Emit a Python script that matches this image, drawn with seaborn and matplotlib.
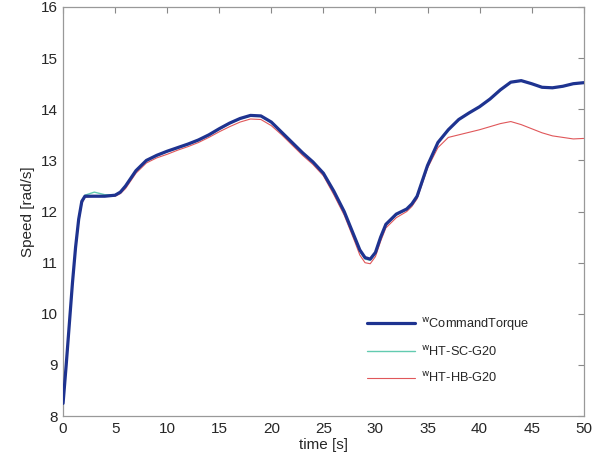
import numpy as np
import pandas as pd
import matplotlib
matplotlib.use("Agg")
import matplotlib.pyplot as plt
import seaborn as sns

# Values
time_s = [0, 0.3, 0.6, 0.9, 1.2, 1.5, 1.8, 2.1, 3, 4, 5, 5.5, 6, 7, 8, 9, 10, 11, 12, 13,
          14, 15, 16, 17, 18, 19, 20, 21, 22, 23, 24, 25, 26, 27, 28, 28.5, 29, 29.5, 30,
          30.5, 31, 32, 33, 33.5, 34, 35, 36, 37, 38, 39, 40, 41, 42, 43, 44, 45, 46, 47,
          48, 49, 50]
w_command = [8.25, 9.0, 9.8, 10.6, 11.3, 11.85, 12.2, 12.3, 12.3, 12.3, 12.32, 12.38, 12.5,
             12.8, 13.0, 13.1, 13.18, 13.25, 13.32, 13.4, 13.5, 13.62, 13.73, 13.82, 13.88,
             13.87, 13.75, 13.55, 13.35, 13.15, 12.97, 12.75, 12.4, 12.0, 11.5, 11.25, 11.1,
             11.07, 11.2, 11.5, 11.75, 11.95, 12.05, 12.15, 12.3, 12.9, 13.35, 13.6, 13.8,
             13.93, 14.05, 14.2, 14.38, 14.53, 14.56, 14.5, 14.43, 14.42, 14.45, 14.5, 14.52]
w_ht_sc = [8.25, 9.0, 9.8, 10.6, 11.3, 11.85, 12.2, 12.32, 12.38, 12.33, 12.33, 12.38, 12.5,
           12.8, 12.99, 13.09, 13.17, 13.24, 13.31, 13.39, 13.49, 13.61, 13.72, 13.81, 13.87,
           13.86, 13.74, 13.54, 13.34, 13.14, 12.96, 12.74, 12.38, 11.98, 11.48, 11.22, 11.07,
           11.05, 11.18, 11.48, 11.73, 11.93, 12.04, 12.14, 12.3, 12.9, 13.35, 13.6, 13.8,
           13.93, 14.05, 14.2, 14.38, 14.53, 14.56, 14.5, 14.43, 14.42, 14.45, 14.5, 14.52]
w_ht_hb = [8.2, 8.95, 9.75, 10.55, 11.25, 11.8, 12.15, 12.28, 12.3, 12.3, 12.3, 12.35, 12.45,
           12.75, 12.95, 13.05, 13.12, 13.2, 13.27, 13.35, 13.45, 13.56, 13.66, 13.75, 13.81,
           13.8, 13.68, 13.5, 13.3, 13.1, 12.92, 12.7, 12.33, 11.93, 11.42, 11.15, 11.0,
           10.98, 11.12, 11.42, 11.68, 11.88, 12.0, 12.1, 12.25, 12.85, 13.25, 13.45, 13.5,
           13.55, 13.6, 13.66, 13.72, 13.76, 13.7, 13.62, 13.54, 13.48, 13.45, 13.42, 13.43]

# small raised "w" followed by the series name, as in the reference legend
labels = [r"$^{\text{w}}$CommandTorque", r"$^{\text{w}}$HT-SC-G20", r"$^{\text{w}}$HT-HB-G20"]
colors = ["#1e3390", "#62cbb0", "#e0575a"]
widths = [2.3, 1.0, 0.8]

sns.set_style("white")
plt.rcParams["font.family"] = ["Liberation Sans", "DejaVu Sans"]
plt.rcParams["mathtext.default"] = "regular"

fig = plt.figure(figsize=(5.95, 4.66), dpi=100)
ax = fig.add_axes([0.106, 0.107, 0.875, 0.878])

series = [w_command, w_ht_sc, w_ht_hb]
# thin lines first, thick command line on top
for i in [1, 2, 0]:
    df = pd.DataFrame({"time": time_s, "speed": series[i]})
    sns.lineplot(data=df, x="time", y="speed", ax=ax, color=colors[i],
                 linewidth=widths[i], label=labels[i], zorder=3 if i == 0 else 2)

ax.set_xlim(0, 50)
ax.set_ylim(8, 16)
ax.set_xticks(np.arange(0, 51, 5))
ax.set_yticks(np.arange(8, 17, 1))
ax.set_xlabel("time [s]", fontsize=11, labelpad=2)
ax.set_ylabel("Speed [rad/s]", fontsize=11, labelpad=4)
ax.tick_params(direction="in", length=4, width=0.8, color="#888888",
               labelsize=11, top=True, right=True, pad=4)
for s in ax.spines.values():
    s.set_color("#999999")
    s.set_linewidth(0.9)

handles, labs = ax.get_legend_handles_labels()
order = [labs.index(l) for l in labels]
ax.legend([handles[k] for k in order], [labs[k] for k in order],
          loc="lower left", bbox_to_anchor=(0.562, 0.048), frameon=False,
          fontsize=9.2, handlelength=3.75, labelspacing=0.95, handletextpad=0.45)

plt.savefig("out.png", dpi=100)
